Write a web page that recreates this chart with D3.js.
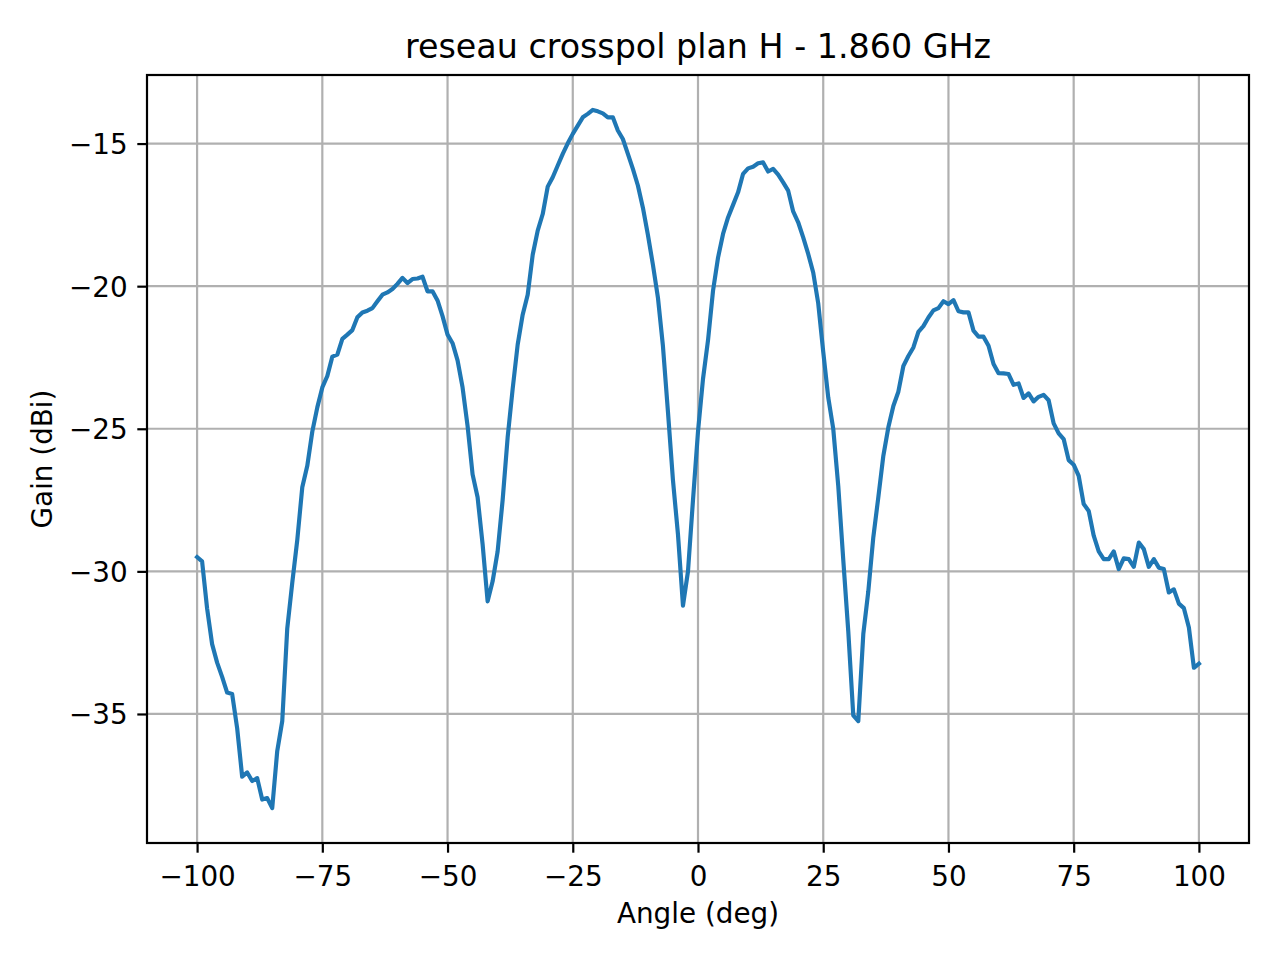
<!DOCTYPE html>
<html>
<head>
<meta charset="utf-8">
<script src="https://cdn.jsdelivr.net/npm/d3@7"></script>
<style>
  html, body { margin: 0; padding: 0; background: #ffffff; }
  svg { display: block; font-family: "DejaVu Sans", sans-serif; }
</style>
</head>
<body>
<svg id="chart" width="1280" height="960"></svg>
<script>
// ---- data ----
const titleText = "reseau crosspol plan H - 1.860 GHz";
const xLabelText = "Angle (deg)";
const yLabelText = "Gain (dBi)";
const angleStart = -100, angleEnd = 100, angleStep = 1;
const angles = d3.range(angleStart, angleEnd + angleStep, angleStep);
const gain = [
  -29.5, -29.65, -31.3, -32.55, -33.2, -33.7, -34.25, -34.3, -35.5, -37.2,
  -37.05, -37.35, -37.25, -38.0, -37.95, -38.3, -36.3, -35.25, -32.0, -30.4,
  -28.9, -27.05, -26.3, -25.1, -24.25, -23.55, -23.15, -22.47, -22.4, -21.85,
  -21.7, -21.54, -21.09, -20.92, -20.86, -20.77, -20.53, -20.3, -20.22, -20.1,
  -19.92, -19.71, -19.89, -19.75, -19.73, -19.67, -20.18, -20.18, -20.5, -21.05,
  -21.7, -22.0, -22.6, -23.55, -24.9, -26.6, -27.4, -29.05, -31.05, -30.35,
  -29.3, -27.5, -25.3, -23.6, -22.05, -21.0, -20.3, -18.9, -18.05, -17.47,
  -16.51, -16.18, -15.77, -15.36, -14.99, -14.66, -14.37, -14.08, -13.96, -13.82,
  -13.87, -13.94, -14.08, -14.08, -14.54, -14.84, -15.36, -15.89, -16.47, -17.25,
  -18.2, -19.25, -20.4, -22.1, -24.4, -26.8, -28.7, -31.2, -30.0, -27.5,
  -25.1, -23.25, -21.9, -20.16, -19.0, -18.17, -17.59, -17.15, -16.71, -16.06,
  -15.87, -15.81, -15.69, -15.66, -15.98, -15.89, -16.09, -16.36, -16.65, -17.38,
  -17.76, -18.29, -18.87, -19.52, -20.6, -22.3, -23.9, -25.0, -27.0, -29.6,
  -32.1, -35.05, -35.25, -32.2, -30.7, -28.8, -27.4, -25.95, -24.95, -24.2,
  -23.7, -22.8, -22.45, -22.15, -21.6, -21.4, -21.1, -20.85, -20.77, -20.53,
  -20.63, -20.49, -20.88, -20.92, -20.92, -21.56, -21.77, -21.77, -22.09, -22.73,
  -23.05, -23.06, -23.08, -23.46, -23.41, -23.92, -23.76, -24.04, -23.88, -23.81,
  -24.0, -24.81, -25.16, -25.36, -26.1, -26.26, -26.65, -27.64, -27.88, -28.75,
  -29.3, -29.57, -29.57, -29.3, -29.92, -29.54, -29.57, -29.84, -28.99, -29.22,
  -29.84, -29.57, -29.87, -29.92, -30.74, -30.63, -31.13, -31.29, -31.97, -33.38,
  -33.24
];
const xTicks = [-100, -75, -50, -25, 0, 25, 50, 75, 100];
const yTicks = [-35, -30, -25, -20, -15];

// ---- layout ----
const plot = { left: 147, right: 1249, top: 75, bottom: 843 };
const fontSize = 27.8;

const points = angles.map((a, i) => ({ x: a, y: gain[i] }));

const xMin = d3.min(angles), xMax = d3.max(angles);
const yMin = d3.min(gain), yMax = d3.max(gain);
const xPad = (xMax - xMin) * 0.05, yPad = (yMax - yMin) * 0.05;

const x = d3.scaleLinear().domain([xMin - xPad, xMax + xPad]).range([plot.left, plot.right]);
const y = d3.scaleLinear().domain([yMin - yPad, yMax + yPad]).range([plot.bottom, plot.top]);

const svg = d3.select("#chart");
svg.append("rect").attr("width", 1280).attr("height", 960).attr("fill", "#ffffff");

const fmt = v => String(v).replace("-", "\u2212");

// grid
const grid = svg.append("g");
grid.selectAll("line.gx").data(xTicks).join("line")
  .attr("x1", d => x(d)).attr("x2", d => x(d))
  .attr("y1", plot.top).attr("y2", plot.bottom)
  .attr("stroke", "#b0b0b0").attr("stroke-width", 2.2);
grid.selectAll("line.gy").data(yTicks).join("line")
  .attr("y1", d => y(d)).attr("y2", d => y(d))
  .attr("x1", plot.left).attr("x2", plot.right)
  .attr("stroke", "#b0b0b0").attr("stroke-width", 2.2);

// line
const line = d3.line().x(d => x(d.x)).y(d => y(d.y));
svg.append("path").datum(points)
  .attr("d", line)
  .attr("fill", "none")
  .attr("stroke", "#1f77b4")
  .attr("stroke-width", 4.17)
  .attr("stroke-linejoin", "round")
  .attr("stroke-linecap", "square");

// axes via d3 axis
const xAxis = d3.axisBottom(x).tickValues(xTicks).tickFormat(fmt).tickSize(9.7).tickPadding(9.7);
const yAxis = d3.axisLeft(y).tickValues(yTicks).tickFormat(fmt).tickSize(9.7).tickPadding(9.7);

const gx = svg.append("g").attr("transform", `translate(0,${plot.bottom})`).call(xAxis);
const gy = svg.append("g").attr("transform", `translate(${plot.left},0)`).call(yAxis);
[gx, gy].forEach(g => {
  g.select(".domain").remove();
  g.selectAll(".tick line").attr("stroke", "#000").attr("stroke-width", 2.2);
  g.selectAll(".tick text").attr("fill", "#000").attr("font-size", fontSize)
    .attr("font-family", "DejaVu Sans");
});
gx.selectAll(".tick text").attr("dy", null).attr("y", 43);
gy.selectAll(".tick text").attr("dy", "0.36em");

// spines
svg.append("rect")
  .attr("x", plot.left).attr("y", plot.top)
  .attr("width", plot.right - plot.left).attr("height", plot.bottom - plot.top)
  .attr("fill", "none").attr("stroke", "#000").attr("stroke-width", 2.2);

// title & labels
svg.append("text").attr("x", (plot.left + plot.right) / 2).attr("y", 58)
  .attr("text-anchor", "middle").attr("font-size", 33.3).attr("fill", "#000")
  .text(titleText);
svg.append("text").attr("x", (plot.left + plot.right) / 2).attr("y", 923)
  .attr("text-anchor", "middle").attr("font-size", fontSize).attr("fill", "#000")
  .text(xLabelText);
svg.append("text")
  .attr("transform", `translate(52,${(plot.top + plot.bottom) / 2}) rotate(-90)`)
  .attr("text-anchor", "middle").attr("font-size", fontSize).attr("fill", "#000")
  .text(yLabelText);
</script>
</body>
</html>
